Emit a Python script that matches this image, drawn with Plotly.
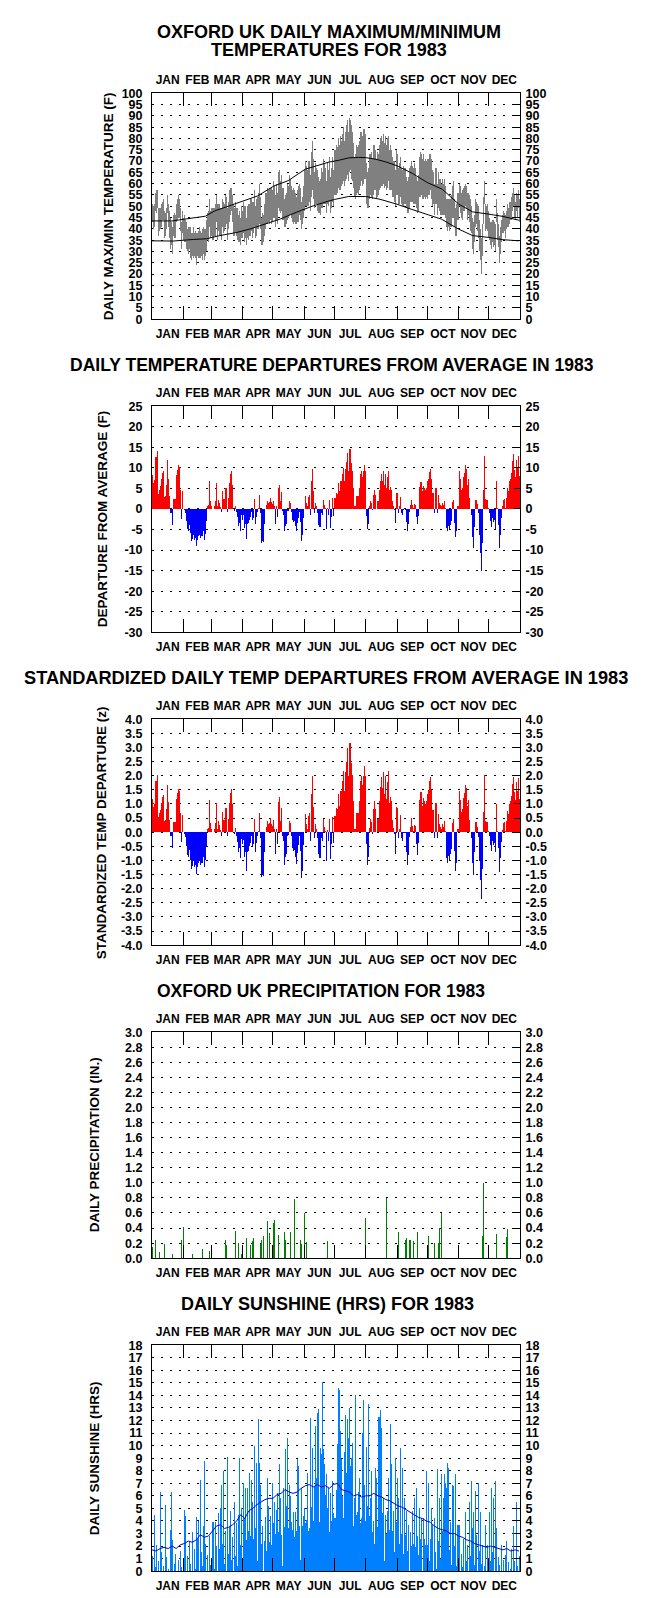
import plotly.graph_objects as go

# ---------------- data ----------------
MONTHS = ["JAN", "FEB", "MAR", "APR", "MAY", "JUN", "JUL", "AUG", "SEP", "OCT", "NOV", "DEC"]
MONTH_DAYS = [31, 28, 31, 30, 31, 30, 31, 31, 30, 31, 30, 31]

# daily maximum temperature (F)
tmax = [
    51, 50, 51, 56, 57, 57, 49, 49, 49, 51, 52, 53, 48, 47, 49, 55, 51, 48, 45, 43, 41, 46, 47, 46, 51, 53, 55, 53, 49, 43, 48,
    45, 46, 44, 43, 40, 41, 41, 41, 38, 38, 41, 38, 39, 38, 38, 39, 41, 39, 38, 40, 41, 40, 40, 44, 47, 48, 53, 48,
    49, 49, 49, 51, 55, 51, 51, 51, 49, 49, 53, 52, 51, 55, 54, 49, 52, 57, 58, 58, 55, 51, 49, 52, 49, 49, 46, 48, 45, 50, 48,
    52, 50, 50, 45, 50, 51, 51, 53, 53, 52, 52, 57, 50, 53, 54, 56, 60, 54, 45, 47, 46, 51, 56, 56, 58, 57, 58, 58, 58, 57,
    61, 59, 55, 60, 56, 65, 66, 61, 64, 58, 58, 53, 55, 56, 60, 59, 64, 62, 59, 57, 58, 57, 56, 54, 57, 59, 60, 58, 52, 54, 59,
    66, 70, 68, 66, 70, 70, 64, 74, 79, 71, 65, 69, 67, 66, 63, 61, 62, 67, 65, 71, 69, 67, 61, 69, 66, 72, 63, 67, 72, 66,
    75, 77, 76, 80, 77, 81, 79, 82, 85, 79, 83, 86, 88, 83, 89, 88, 86, 83, 78, 72, 73, 77, 76, 77, 79, 83, 83, 81, 84, 84, 82,
    69, 65, 67, 73, 73, 74, 71, 77, 77, 75, 71, 74, 73, 77, 80, 81, 79, 82, 78, 81, 77, 80, 81, 75, 77, 75, 72, 70, 70, 66, 75,
    73, 67, 69, 72, 67, 66, 68, 67, 67, 63, 61, 63, 67, 68, 70, 68, 67, 69, 67, 63, 61, 64, 72, 74, 73, 71, 73, 70, 71, 70,
    71, 71, 73, 73, 71, 66, 65, 60, 67, 67, 60, 65, 62, 62, 60, 62, 60, 62, 59, 53, 53, 53, 53, 53, 55, 59, 61, 53, 49, 51, 56,
    60, 59, 56, 57, 58, 59, 60, 59, 56, 56, 55, 53, 50, 45, 43, 46, 53, 52, 51, 50, 44, 40, 36, 42, 54, 61, 51, 50, 51, 48,
    45, 43, 43, 44, 44, 43, 42, 53, 47, 42, 37, 41, 44, 46, 48, 47, 46, 48, 51, 49, 52, 52, 54, 56, 58, 55, 52, 56, 55, 57, 53,
]

# daily minimum temperature (F)
tmin = [
    43, 40, 41, 48, 47, 49, 37, 39, 40, 41, 44, 44, 36, 37, 40, 47, 41, 36, 31, 33, 29, 37, 36, 36, 43, 44, 45, 45, 39, 31, 38,
    35, 34, 34, 31, 30, 29, 31, 27, 26, 28, 27, 28, 27, 24, 28, 27, 27, 27, 28, 26, 29, 26, 28, 30, 35, 34, 41, 36,
    37, 35, 37, 37, 43, 35, 39, 37, 37, 35, 41, 38, 39, 41, 42, 35, 40, 43, 46, 48, 43, 37, 37, 38, 37, 35, 34, 34, 33, 36, 36,
    38, 34, 36, 33, 36, 35, 37, 37, 39, 36, 38, 41, 36, 37, 40, 40, 42, 40, 33, 33, 34, 37, 40, 42, 42, 43, 42, 44, 42, 43,
    45, 45, 41, 44, 42, 49, 48, 47, 48, 44, 44, 41, 41, 42, 44, 45, 46, 46, 45, 43, 42, 43, 42, 42, 43, 43, 46, 44, 40, 42, 45,
    48, 50, 50, 50, 50, 52, 48, 54, 57, 53, 49, 51, 51, 48, 47, 47, 46, 49, 49, 51, 51, 51, 47, 51, 50, 52, 47, 49, 52, 50,
    55, 55, 56, 58, 57, 57, 59, 60, 61, 59, 61, 62, 64, 61, 65, 66, 62, 61, 58, 54, 53, 55, 56, 55, 57, 59, 61, 59, 60, 62, 62,
    51, 49, 49, 53, 55, 54, 53, 55, 57, 57, 53, 54, 55, 57, 58, 59, 59, 60, 58, 59, 57, 58, 61, 57, 57, 57, 54, 54, 52, 50, 55,
    55, 51, 51, 54, 51, 50, 50, 51, 51, 49, 47, 47, 49, 52, 52, 52, 51, 51, 51, 49, 47, 48, 54, 54, 55, 53, 53, 54, 53, 54,
    53, 55, 55, 57, 53, 50, 51, 46, 51, 51, 46, 49, 48, 46, 46, 46, 46, 46, 45, 41, 39, 41, 39, 41, 41, 45, 45, 41, 37, 37, 44,
    50, 47, 45, 44, 48, 48, 50, 49, 44, 46, 43, 39, 38, 31, 29, 34, 41, 42, 39, 36, 30, 26, 20, 28, 42, 51, 39, 40, 39, 36,
    35, 33, 31, 34, 32, 33, 30, 43, 35, 32, 25, 29, 34, 38, 38, 39, 36, 40, 41, 41, 42, 44, 44, 48, 50, 45, 44, 48, 45, 49, 43,
]

# normal (average) max / min temperature curves (F)
norm_max_days = [0, 20, 31, 45, 53, 62, 75, 91, 105, 121, 135, 152, 163, 176, 185, 195, 205, 212, 222, 232, 243, 258, 273, 288, 304, 318, 334, 348, 364]
norm_max_vals = [43.5, 43.5, 44.2, 45.0, 45.6, 47.9, 49.9, 52.4, 54.6, 59.0, 61.3, 66.4, 67.9, 69.6, 70.3, 71.4, 71.6, 71.5, 70.8, 69.6, 67.9, 64.6, 60.5, 57.5, 51.0, 47.5, 46.5, 45.5, 43.8]
norm_min_days = [0, 21, 41, 54, 67, 84, 97, 113, 127, 143, 160, 176, 181, 195, 212, 226, 243, 257, 273, 287, 304, 318, 334, 348, 364]
norm_min_vals = [34.7, 34.6, 35.3, 35.6, 37.0, 38.4, 39.9, 42.1, 44.3, 47.3, 50.2, 52.4, 53.0, 54.3, 54.3, 53.1, 50.9, 48.7, 46.5, 44.3, 39.9, 37.0, 36.2, 35.2, 34.7]

# daily departure of mean temperature from average (F)
departure = [
    8.2, 6.3, 7, 12.6, 12.6, 14.2, 3.7, 4.7, 5.5, 7.2, 8.8, 9.3, 2.8, 3.1, 5.8, 11.8, 7.4, 3.1, -1, -1, -3.8, 2.5, 2.5, 2.5, 8.2, 9.6, 10.6, 10.2, 4.7, -2.4, 4.3,
    0.1, -0.3, -1, -3, -5, -5.3, -3.8, -5.9, -7.9, -7.3, -6.3, -7.5, -7.1, -9.1, -7.5, -6.7, -6.3, -7.1, -6.7, -6.7, -5.4, -7.5, -6.1, -3, 0.6, 0.9, 6.9, 2,
    0.6, 0.1, 0.6, 1.9, 6.3, 0.6, 2.3, 1.5, 0.4, -0.7, 4.3, 2.5, 2.5, 5.1, 5.1, -0.7, 2.7, 6.3, 8.4, 9.2, 5.9, 0.1, -0.4, 0.8, -0.7, -2, -4.2, -3.4, -5.4, -1.5, -2.6,
    -1.5, -4.6, -3.7, -7.2, -3.7, -3.4, -2.6, -2, -0.7, -2.6, -2.2, 2.4, -3.7, -2, -0.7, 0.2, 3.5, -1, -8.3, -7.9, -8, -3.7, 0.1, 1, 2, 1.5, 1.7, 2.7, 1.6, 1.2,
    2, 0.6, -3.7, 0.6, -2, 5, 5.8, 1.9, 4.1, -0.6, -1.5, -5.4, -4.2, -3.7, -0.6, -0.4, 1.9, 1.5, -0.7, -2.6, -3.2, -3, -4.2, -5.3, -3.4, -2.2, -0.7, -3.2, -7.7, -6.4, -2.2,
    0.1, 3.1, 1.5, 0.6, 2.8, 3.3, -1.5, 6.7, 9.8, 4.3, -1, 1.5, 0.6, -1, -3.8, -4.5, -4.5, -1, -1.5, 2.3, 0.9, 0.2, -5, 0.3, -1.5, 2.3, -4.6, -2, 2.7, -1.8,
    2.7, 3.9, 3.7, 6.3, 4.3, 6.7, 6.7, 8.4, 10, 6.7, 9.8, 11.5, 13.7, 9.2, 14.5, 14.5, 11.2, 9.3, 5, 0.6, 0.6, 3.1, 3.1, 3.1, 5.1, 8.4, 9.2, 7.7, 9.2, 10.8, 9.2,
    -1.8, -5, -3.7, 0.6, 2, 1.5, -0.3, 3.5, 4.7, 3.5, 0.1, 2, 2, 4.7, 6.9, 8.4, 6.7, 9.2, 5.8, 8.5, 5.1, 7.7, 9.3, 4.5, 5.3, 4.7, 1.9, 0.6, -0.3, -3.3, 3.9,
    3.9, -1, 0.6, 2.8, -1, -1.5, -0.2, -0.1, -0.2, -3.2, -5.3, -3.7, -0.7, 0.9, 2.3, 1, 0.2, 1.2, 1, -2, -3.7, -1.8, 5.3, 6.6, 6.6, 4.3, 5.5, 5, 4.6, 5.1,
    6.7, 7.4, 9, 9.8, 7.4, 3.9, 3.9, -1, 5.1, 5.1, -1, 3.3, 1.5, 1, 0.6, 1.5, 1, 2, 0.2, -4.6, -5.4, -4.2, -5, -3.8, -3, 1.7, 2.3, -3.4, -6.9, -5.4, 0.6,
    9.2, 7.2, 4.5, 5.1, 7.7, 8.8, 10.6, 9.8, 5.8, 7.2, 2.7, 0.1, -1.4, -6.9, -9.5, -4.5, 2.3, 2.3, 1.2, -1, -6.4, -10.7, -15, -8.3, 4.5, 12.8, 2.5, 2.3, 2.3, 0.2,
    -1, -3, -4.5, -2.2, -3.1, -2.6, -4.8, 6.9, 0.2, -3.8, -9.5, -6.3, -2.3, 0.6, 2.3, 2.5, 0.2, 2.7, 5, 4.3, 6.7, 7.4, 8.8, 11.6, 13.3, 9.6, 7.7, 12, 10, 13, 8,
]

# standard deviation of daily mean temperature by month (F), used for standardizing
std_by_month = [7.0, 6.1, 6.0, 5.2, 4.7, 4.9, 4.6, 4.3, 4.6, 5.0, 6.3, 6.8]

# daily precipitation (in.), only wet days listed
precip_days = [0, 3, 7, 12, 20, 29, 31, 40, 50, 57, 72, 73, 82, 85, 88, 93, 97, 99, 100, 107, 108, 110, 114, 116,
               120, 121, 125, 131, 132, 137, 141, 147, 148, 151, 153, 174, 211, 232, 244, 251, 252, 255, 256, 259,
               263, 274, 280, 284, 285, 287, 327, 328, 341, 351, 352]
precip_in = [0.15, 0.24, 0.08, 0.19, 0.05, 0.24, 0.42, 0.06, 0.12, 0.10, 0.24, 0.18, 0.36, 0.20, 0.05, 0.27, 0.18, 0.23, 0.27, 0.19, 0.24, 0.30, 0.50, 0.34,
             0.47, 0.51, 0.31, 0.35, 0.24, 0.35, 0.79, 0.24, 0.19, 0.60, 0.22, 0.23, 0.54, 0.80, 0.35, 0.24, 0.27, 0.24, 0.24, 0.23,
             0.35, 0.30, 0.20, 0.20, 0.40, 0.60, 0.30, 1.00, 0.32, 0.28, 0.39]

# daily sunshine (hrs)
sunshine = [
    1.2, 0, 4.5, 0.3, 2.1, 0, 0.8, 0, 6.3, 1.5, 0, 0.4, 0, 5.3, 1.1, 0, 0.2, 0, 3.3, 6.3, 2.5, 0, 0.6, 1.4, 0, 0, 0.9, 0, 1.6, 0.3, 0,
    0.5, 4.9, 4.4, 0, 1.2, 0, 2.3, 0.6, 0, 3.1, 0, 1.8, 0.2, 4.3, 2.6, 4.0, 0, 7.3, 1.5, 0.4, 3.6, 8.8, 2.2, 0, 1.3, 0, 2.8, 0.5,
    1.0, 3.9, 0.2, 3.9, 2.0, 0, 4.6, 1.8, 5, 6.9, 2.2, 8, 0.6, 3.2, 0, 9.1, 1.4, 3.5, 4.8, 0.9, 2.7, 0, 5.5, 1.2, 3.8, 0.4, 4.5, 9, 2.1, 5.0, 0.8,
    7, 4.2, 6.6, 2.5, 6.6, 3.2, 7.8, 2.8, 7.3, 5.5, 2.6, 10, 3.4, 8.6, 0.8, 12.1, 8.6, 6.9, 2.2, 3.6, 0, 2.4, 4.3, 1.6, 7.4, 5.2, 2.3, 4.4, 2.1, 7,
    3.8, 5.5, 3.0, 4.9, 6.2, 3.1, 8.5, 5.8, 2.9, 0.4, 6.6, 3.5, 9.7, 5.2, 10.6, 3.4, 6.9, 6, 3.9, 3.3, 4.7, 2.7, 4.7, 3.2, 8.9, 8.4, 3.6, 0.9, 6.6, 3.6, 4.4,
    5, 3.8, 4.1, 7.8, 3.2, 3.4, 12.2, 5.1, 9.8, 4.0, 6.8, 11.6, 7.4, 12.6, 12.9, 3.9, 9.8, 9.3, 15.1, 9.7, 8.5, 6.1, 7.7, 5, 6.6, 3.1, 6.2, 4.0, 7.2, 4.6,
    4.2, 6.5, 10.1, 14.6, 14.4, 11.2, 8.9, 6.0, 4.2, 9.5, 12.4, 7.8, 12.1, 10.6, 13, 8.4, 9, 10.2, 3.6, 5.8, 14, 4.5, 4.7, 6.3, 7.4, 3.8, 4.2, 11, 13.6, 6.9, 4.0,
    9.9, 5.2, 13.3, 4.4, 5.8, 8, 3.1, 4, 2.2, 8.2, 7.4, 3.5, 12.3, 12.3, 12.8, 11.4, 4.6, 5.8, 0.8, 4.5, 3.0, 4.8, 7.4, 3.3, 11.7, 8.5, 3.2, 4.8, 1.5, 9, 3.9,
    7.4, 5.8, 2.2, 9.8, 3.0, 8.2, 1.4, 5.8, 2.9, 4.8, 1.6, 3.7, 0, 3.1, 2.0, 4.8, 2.2, 5.8, 1.9, 6.6, 2.8, 1.3, 5, 2.6, 4.2, 0, 4.2, 2.6, 2.1, 8,
    2.1, 7, 0.8, 2.6, 5, 3.7, 0, 4.2, 1.5, 0.2, 8.1, 2.4, 5.8, 1.0, 7.7, 3.2, 5.8, 7.7, 7, 6.6, 8.6, 8.2, 1.7, 3.9, 0.5, 6.9, 6.8, 2.0, 7.7, 0.4, 3.7,
    3.7, 0, 1.4, 0.3, 2.6, 0, 4.7, 0.8, 2.1, 0, 5.5, 1.2, 7.2, 3.4, 4.7, 0.5, 6.4, 2.9, 0, 7, 1.6, 4.7, 0.6, 2.1, 0, 0.4, 3.7, 0, 2.1, 1.0,
    4.7, 0.8, 6.6, 1.5, 5.8, 0, 7.2, 3.4, 0, 1.1, 0.5, 0, 2.1, 0, 0.9, 0, 1.3, 2.4, 0, 0.7, 0, 0.2, 1.8, 0, 3.6, 0.8, 0, 5.5, 0.4, 0, 1.2,
]

# normal (average) daily sunshine curve (hrs)
sun_norm_days = [0, 4, 8, 12, 16, 20, 24, 28, 32, 36, 40, 44, 48, 52, 56, 60, 64, 68, 72, 76, 80, 84, 88, 92, 96, 100,
                 104, 108, 112, 116, 120, 124, 128, 132, 136, 140, 144, 148, 152, 156, 160, 164, 168, 172, 176, 180,
                 184, 188, 192, 196, 200, 204, 208, 212, 216, 220, 224, 228, 232, 236, 240, 244, 248, 252, 256, 260,
                 264, 268, 272, 276, 280, 284, 288, 292, 296, 300, 304, 308, 312, 316, 320, 324, 328, 332, 336, 340,
                 344, 348, 352, 356, 360, 364]
sun_norm_vals = [1.7, 1.6, 1.8, 1.9, 1.8, 2.0, 1.8, 2.1, 2.2, 2.4, 2.3, 2.5, 2.9, 2.7, 2.8, 3.2, 3.6, 3.7, 3.4, 3.5,
                 3.7, 4.0, 4.5, 4.2, 4.8, 5.0, 5.3, 5.5, 5.7, 5.8, 5.8, 6.1, 6.2, 6.5, 6.3, 6.2, 6.3, 6.6, 6.8, 6.9,
                 6.7, 6.9, 6.7, 6.8, 6.6, 6.9, 7.0, 6.5, 6.4, 6.3, 6.0, 6.1, 5.9, 6.0, 6.0, 6.2, 6.0, 5.9, 5.7, 5.6,
                 5.4, 5.2, 5.1, 4.9, 4.7, 4.5, 4.3, 4.2, 4.0, 3.9, 3.6, 3.4, 3.3, 3.2, 3.0, 3.0, 2.8, 2.7, 2.5, 2.4,
                 2.2, 2.1, 2.0, 1.9, 2.0, 1.9, 1.8, 1.7, 1.8, 1.6, 1.7, 1.6]

# ---------------- derived ----------------
bounds = [0]
for n in MONTH_DAYS:
    bounds.append(bounds[-1] + n)
mids = [(bounds[i] + bounds[i + 1]) / 2 for i in range(12)]
month_of_day = [m for m, n in enumerate(MONTH_DAYS) for _ in range(n)]

days_x = [d + 0.5 for d in range(len(tmax))]
dep_x = [d + 0.5 for d in range(len(departure))]
zscore = [v / std_by_month[month_of_day[d]] for d, v in enumerate(departure)]
sun_x = [d + 0.5 for d in range(len(sunshine))]
precip_x = [d + 0.5 for d in precip_days]

# ---------------- layout ----------------
W, H = 650, 1598
X0, X1 = 152, 520
PH = 228
STEP = 315.75
TOPS = [87 + k * STEP for k in range(5)]
FONT = "Liberation Sans, Arial, sans-serif"

RED, BLUE, GREEN, GRAY = "#FF0000", "#0000FF", "#008000", "#808080"
SUN, SUN_LINE = "#0080FF", "#0000CC"


def frange(a, b, step):
    out, v = [], a
    while v <= b + 1e-9:
        out.append(round(v, 4))
        v += step
    return out


panels = [
    dict(rng=(0, 100), ticks=frange(0, 100, 5), fmt="{:.0f}", ytitle="DAILY MAX/MIN TEMPERATURE (F)", tx=108,
         titles=["OXFORD UK DAILY MAXIMUM/MINIMUM", "TEMPERATURES FOR 1983"], cx=329, fs=18),
    dict(rng=(-30, 25), ticks=frange(-30, 25, 5), fmt="{:.0f}", ytitle="DEPARTURE FROM AVERAGE (F)", tx=102,
         titles=["DAILY TEMPERATURE DEPARTURES FROM AVERAGE IN 1983"], cx=332, fs=17.5),
    dict(rng=(-4, 4), ticks=frange(-4, 4, 0.5), fmt="{:.1f}", ytitle="STANDARDIZED TEMP DEPARTURE (z)", tx=101,
         titles=["STANDARDIZED DAILY TEMP DEPARTURES FROM AVERAGE IN 1983"], cx=326, fs=18.2),
    dict(rng=(0, 3), ticks=frange(0, 3, 0.2), fmt="{:.1f}", ytitle="DAILY PRECIPITATION (IN.)", tx=94,
         titles=["OXFORD UK PRECIPITATION FOR 1983"], cx=321, fs=17.5),
    dict(rng=(0, 18), ticks=frange(0, 18, 1), fmt="{:.0f}", ytitle="DAILY SUNSHINE (HRS)", tx=94,
         titles=["DAILY SUNSHINE (HRS) FOR 1983"], cx=327, fs=18),
]


def ax(prefix, i):
    return prefix if i == 1 else f"{prefix}{i}"


def clean(t):
    return "0" if t == "-0" else ("0.0" if t == "-0.0" else t)


layout = dict(
    width=W, height=H, autosize=False,
    margin=dict(l=0, r=0, t=0, b=0, pad=0),
    paper_bgcolor="white", plot_bgcolor="white",
    showlegend=False, bargap=0, barmode="overlay",
    font=dict(family=FONT, color="black"),
    annotations=[],
)

dummy = []
for k, p in enumerate(panels):
    i_b, i_t = 2 * k + 1, 2 * k + 2
    top = TOPS[k]
    bot = top + PH
    xdom = [X0 / W, X1 / W]
    ydom = [1 - bot / H, 1 - top / H]
    ticktext = [clean(p["fmt"].format(v)) for v in p["ticks"]]

    xcommon = dict(
        domain=xdom, range=[0, 365], fixedrange=True,
        showline=True, linecolor="black", linewidth=1,
        showgrid=False, zeroline=False,
        tickmode="array", tickvals=mids, ticktext=MONTHS, ticks="",
        tickfont=dict(family=FONT, size=12, color="black", weight="bold"),
        ticklabelstandoff=3,
        minor=dict(tickmode="array", tickvals=bounds[1:-1], ticks="inside", ticklen=13,
                   tickwidth=1, tickcolor="black", showgrid=False),
    )
    layout[ax("xaxis", i_b)] = dict(xcommon, side="bottom", anchor=ax("y", i_b))
    layout[ax("xaxis", i_t)] = dict(xcommon, side="top", anchor=ax("y", i_b), overlaying=ax("x", i_b))

    ycommon = dict(
        domain=ydom, range=list(p["rng"]), fixedrange=True,
        showline=True, linecolor="black", linewidth=1, zeroline=False,
        tickmode="array", tickvals=p["ticks"], ticktext=ticktext,
        tickfont=dict(family=FONT, size=12.5, color="black", weight="bold"),
    )
    layout[ax("yaxis", i_b)] = dict(ycommon, side="left", anchor=ax("x", i_b), ticks="", ticklabelstandoff=6,
                                    showgrid=True, gridcolor="black", gridwidth=1, griddash="2px,7px")
    layout[ax("yaxis", i_t)] = dict(ycommon, side="right", anchor=ax("x", i_b), overlaying=ax("y", i_b),
                                    ticks="inside", ticklen=6, tickwidth=1, tickcolor="black",
                                    ticklabelstandoff=2, showgrid=False)

    # invisible anchors so the top and right axes are drawn
    dummy.append(go.Scatter(x=[1], y=[p["rng"][0]], mode="markers", marker=dict(opacity=0, size=1),
                            hoverinfo="skip", xaxis=ax("x", i_t), yaxis=ax("y", i_b)))
    dummy.append(go.Scatter(x=[1], y=[p["rng"][0]], mode="markers", marker=dict(opacity=0, size=1),
                            hoverinfo="skip", xaxis=ax("x", i_b), yaxis=ax("y", i_t)))

    # titles
    if len(p["titles"]) == 2:
        ys = [24.8, 43.3]
    else:
        ys = [top - 41.4]
    for txt, yy in zip(p["titles"], ys):
        layout["annotations"].append(dict(
            text=f"<b>{txt}</b>", xref="paper", yref="paper", x=p["cx"] / W, y=1 - yy / H,
            xanchor="center", yanchor="middle", showarrow=False,
            font=dict(family=FONT, size=p["fs"], color="black")))
    # y-axis title
    layout["annotations"].append(dict(
        text=f"<b>{p['ytitle']}</b>", xref="paper", yref="paper", x=p["tx"] / W, y=1 - (top + PH / 2) / H,
        xanchor="center", yanchor="middle", textangle=-90, showarrow=False,
        font=dict(family=FONT, size=13.5, color="black")))

fig = go.Figure(layout=layout)

# panel 1: daily range bars + normal curves
fig.add_trace(go.Bar(x=days_x, y=[a - b for a, b in zip(tmax, tmin)], base=tmin, width=1,
                     marker=dict(color=GRAY, line=dict(width=0)), xaxis="x", yaxis="y"))
fig.add_trace(go.Scatter(x=norm_max_days, y=norm_max_vals, mode="lines", line=dict(color="black", width=1),
                         xaxis="x", yaxis="y"))
fig.add_trace(go.Scatter(x=norm_min_days, y=norm_min_vals, mode="lines", line=dict(color="black", width=1),
                         xaxis="x", yaxis="y"))

# panel 2: departures
fig.add_trace(go.Bar(x=dep_x, y=departure, width=1,
                     marker=dict(color=[RED if v >= 0 else BLUE for v in departure], line=dict(width=0)),
                     xaxis="x3", yaxis="y3"))

# panel 3: standardized departures
fig.add_trace(go.Bar(x=dep_x, y=zscore, width=1,
                     marker=dict(color=[RED if v >= 0 else BLUE for v in zscore], line=dict(width=0)),
                     xaxis="x5", yaxis="y5"))

# panel 4: precipitation
fig.add_trace(go.Bar(x=precip_x, y=precip_in, width=1,
                     marker=dict(color=GREEN, line=dict(width=0)), xaxis="x7", yaxis="y7"))

# panel 5: sunshine
fig.add_trace(go.Bar(x=sun_x, y=sunshine, width=1,
                     marker=dict(color=SUN, line=dict(width=0)), xaxis="x9", yaxis="y9"))
fig.add_trace(go.Scatter(x=sun_norm_days, y=sun_norm_vals, mode="lines", line=dict(color=SUN_LINE, width=1),
                         xaxis="x9", yaxis="y9"))

for tr in dummy:
    fig.add_trace(tr)

fig.write_html(
    "out.html",
    config={"displayModeBar": False, "staticPlot": True},
    post_script="document.body.style.margin='0';document.body.style.padding='0';document.body.style.overflow='hidden';",
)
